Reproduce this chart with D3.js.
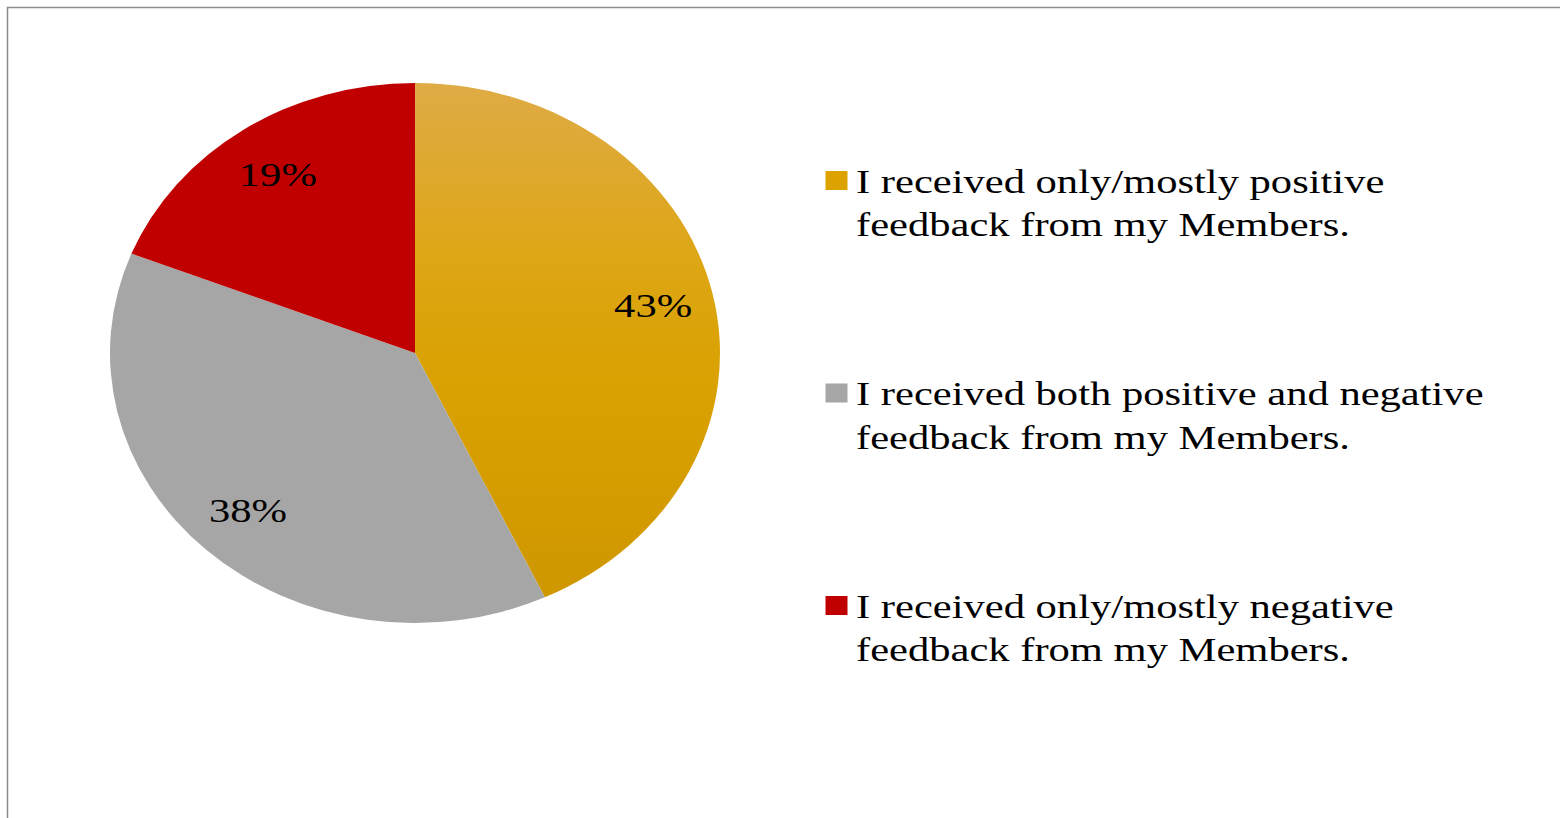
<!DOCTYPE html>
<html>
<head>
<meta charset="utf-8">
<script src="https://cdn.jsdelivr.net/npm/d3@7"></script>
<style>
  html, body { margin: 0; padding: 0; background: #fff; }
  svg { display: block; }
  text { font-family: "Liberation Serif", "Times New Roman", serif; fill: #000; }
</style>
</head>
<body>
<svg id="chart" width="1560" height="818"></svg>
<script>
// Survey answers about Member feedback
const categories = [
  "I received only/mostly positive feedback from my Members.",
  "I received both positive and negative feedback from my Members.",
  "I received only/mostly negative feedback from my Members."
];
const legendLines = [
  ["I received only/mostly positive", "feedback from my Members."],
  ["I received both positive and negative", "feedback from my Members."],
  ["I received only/mostly negative", "feedback from my Members."]
];
const shares = [43, 38, 19];
const colors = ["url(#goldFill)", "#A6A6A6", "#C00000"];
const markerColors = ["#DCA300", "#A6A6A6", "#C00000"];

const svg = d3.select("#chart");
const W = 1560, H = 818;

// Chart frame
svg.append("rect")
  .attr("x", 7.5).attr("y", 7.5)
  .attr("width", W + 20).attr("height", H + 20)
  .attr("fill", "#fff")
  .attr("stroke", "#8c8c8c")
  .attr("stroke-width", 1.5);

// Gradient for the first slice
const defs = svg.append("defs");
const grad = defs.append("linearGradient")
  .attr("id", "goldFill")
  .attr("x1", 0).attr("y1", 0).attr("x2", 0).attr("y2", 1);
[[0, "#DFAB46"], [0.35, "#DDA614"], [0.6, "#D9A100"], [1, "#CF9700"]]
  .forEach(([o, c]) => grad.append("stop").attr("offset", o).attr("stop-color", c));

// Pie, drawn as a circle and stretched horizontally into the plotted ellipse
const cx = 415, cy = 353;
const r = 270;
const sx = 305 / 270;

const pie = d3.pie().sort(null).value(d => d)(shares);
const arc = d3.arc().innerRadius(0).outerRadius(r);
const labelArc = d3.arc().innerRadius(r * 0.8).outerRadius(r * 0.8);

const pieG = svg.append("g")
  .attr("transform", `translate(${cx},${cy}) scale(${sx},1)`);

pieG.selectAll("path.slice")
  .data(pie)
  .join("path")
  .attr("class", "slice")
  .attr("d", arc)
  .attr("fill", (d, i) => colors[i]);

// Value labels
const textScaleX = 1.29;
const fontSize = 33;

svg.append("g").selectAll("text.pct")
  .data(pie)
  .join("text")
  .attr("class", "pct")
  .attr("transform", d => {
    const [x, y] = labelArc.centroid(d);
    return `translate(${cx + x * sx},${cy + y}) scale(${textScaleX},1)`;
  })
  .attr("text-anchor", "middle")
  .attr("dy", "0.34em")
  .style("font-size", fontSize + "px")
  .text(d => d.data + "%");

// Legend
const legendX = 856;
const legendY0 = 192.5;
const entryGap = 212.5;
const lineGap = 43.5;

const leg = svg.append("g").selectAll("g.entry")
  .data(categories)
  .join("g")
  .attr("class", "entry")
  .attr("transform", (d, i) => `translate(0,${legendY0 + i * entryGap})`);

leg.append("rect")
  .attr("x", 825.5)
  .attr("y", -21.5)
  .attr("width", 22)
  .attr("height", 19)
  .attr("fill", (d, i) => markerColors[i]);

leg.each(function (d, i) {
  const g = d3.select(this);
  legendLines[i].forEach((line, j) => {
    g.append("text")
      .attr("transform", `translate(${legendX},${j * lineGap}) scale(${textScaleX},1)`)
      .style("font-size", fontSize + "px")
      .text(line);
  });
});
</script>
</body>
</html>
